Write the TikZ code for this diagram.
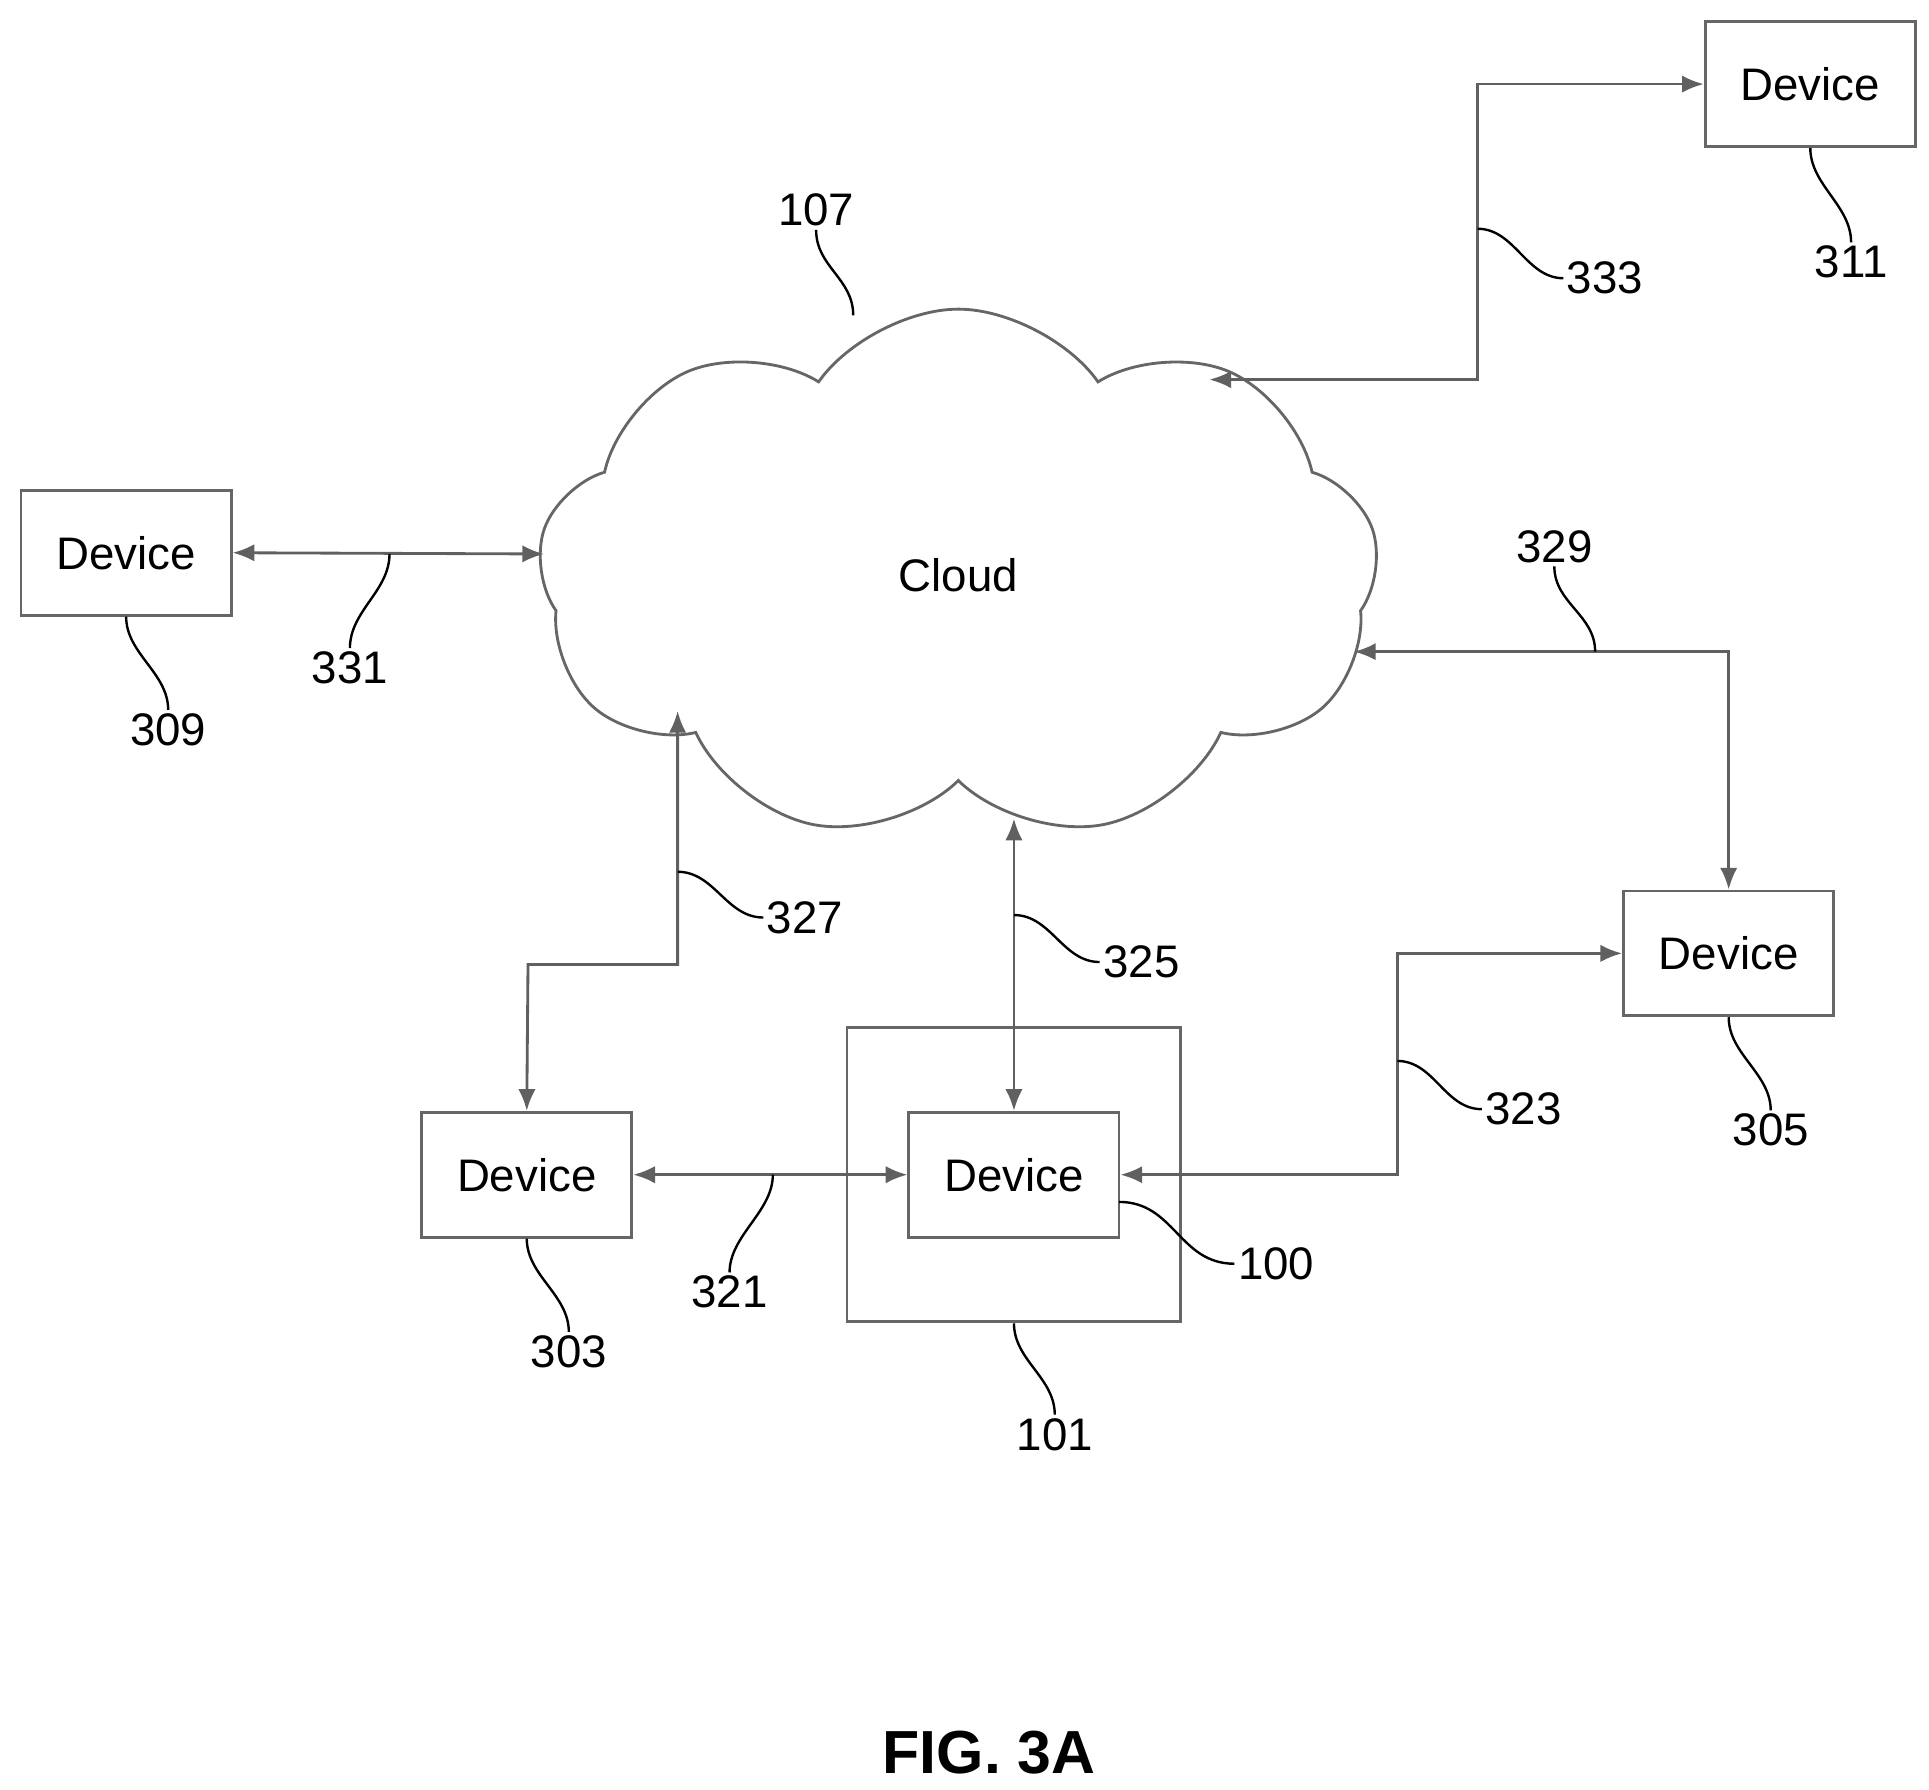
\documentclass[tikz,border=0pt]{standalone}
\usepackage{fontspec}
\setmainfont{Liberation Sans}
\usepackage{tikz}
\usetikzlibrary{arrows.meta}
\usetikzlibrary{shapes.symbols}

\begin{document}
\begin{tikzpicture}[x=0.02cm,y=-0.02cm,%
  line width=1.3pt,%
  box/.style={draw=gray!80!black,minimum width=170*0.02cm,%
  minimum height=101*0.02cm,inner sep=0pt,font=\fontsize{21}{24}\selectfont},%
  num/.style={font=\fontsize{21}{24}\selectfont,inner sep=1pt},%
  link/.style={draw=gray!75!black,%
  {Latex[length=10pt,width=8pt]}-{Latex[length=10pt,width=8pt]}},%
  lead/.style={draw=black,line width=1.1pt}]
\useasboundingbox (0,0) rectangle (1560,1447);
% cloud and devices
\node[cloud,draw=gray!80!black,cloud puffs=9,cloud puff arc=110,aspect=1.6,%
  minimum width=680*0.02cm,minimum height=430*0.02cm,%
  font=\fontsize{21}{24}\selectfont] (cloud) at (775,465) {Cloud};
\node[box] (d311) at (1464,68) {Device};
\node[box] (d309) at (102,447) {Device};
\node[box] (d305) at (1398,771) {Device};
\node[box] (d303) at (426,950) {Device};
\node[draw=gray!80!black,minimum width=270*0.02cm,minimum height=238*0.02cm]%
  (d101) at (820,950) {};
\node[box] (d100) at (820,950) {Device};
% connection points on the cloud
\coordinate (c331) at (440,448);
\coordinate (c333) at (978,307);
\coordinate (c329) at (1095,527);
\coordinate (c327) at (548,575);
\coordinate (c325) at (820,662);
% connectors
\draw[link] (d309.east) -- (c331);
\draw[link] (c333) -| (1195,68) -- (d311.west);
\draw[link] (c329) -| (d305.north);
\draw[link] (c327) |- (427,780) -- (d303.north);
\draw[link] (c325) -- (d100.north);
\draw[link] (d303.east) -- (d100.west);
\draw[link] (d100.east) -| (1130,771) -- (d305.west);
% reference numerals
\node[num] (n107) at (660,170) {107};
\node[num] (n333) at (1298,225) {333};
\node[num] (n311) at (1497,212) {311};
\node[num] (n331) at (283,540) {331};
\node[num] (n309) at (136,590) {309};
\node[num] (n329) at (1257,442) {329};
\node[num] (n327) at (651,742) {327};
\node[num] (n325) at (923,778) {325};
\node[num] (n323) at (1232,897) {323};
\node[num] (n305) at (1432,914) {305};
\node[num] (n100) at (1032,1022) {100};
\node[num] (n321) at (590,1045) {321};
\node[num] (n303) at (460,1093) {303};
\node[num] (n101) at (853,1160) {101};
\node[font=\bfseries\fontsize{28}{30}\selectfont] (fig) at (800,1417) {FIG. 3A};
% leaders
\draw[lead] (690,255) .. controls +(0,-30) and +(0,30) .. (n107.south);
\draw[lead] (1195,185) .. controls +(30,0) and +(-30,0) .. (n333.west);
\draw[lead] (d311.south) .. controls +(0,30) and +(0,-30) .. (n311.north);
\draw[lead] (315,448) .. controls +(0,30) and +(0,-30) .. (n331.north);
\draw[lead] (d309.south) .. controls +(0,30) and +(0,-30) .. (n309.north);
\draw[lead] (1290,527) .. controls +(0,-30) and +(0,30) .. (n329.south);
\draw[lead] (548,705) .. controls +(30,0) and +(-30,0) .. (n327.west);
\draw[lead] (820,740) .. controls +(30,0) and +(-30,0) .. (n325.west);
\draw[lead] (1130,858) .. controls +(30,0) and +(-30,0) .. (n323.west);
\draw[lead] (d305.south) .. controls +(0,30) and +(0,-30) .. (n305.north);
\draw[lead] (905,972) .. controls +(45,0) and +(-45,0) .. (n100.west);
\draw[lead] (625,950) .. controls +(0,30) and +(0,-30) .. (n321.north);
\draw[lead] (d303.south) .. controls +(0,30) and +(0,-30) .. (n303.north);
\draw[lead] (d101.south) .. controls +(0,30) and +(0,-30) .. (n101.north);
\end{tikzpicture}
\end{document}
